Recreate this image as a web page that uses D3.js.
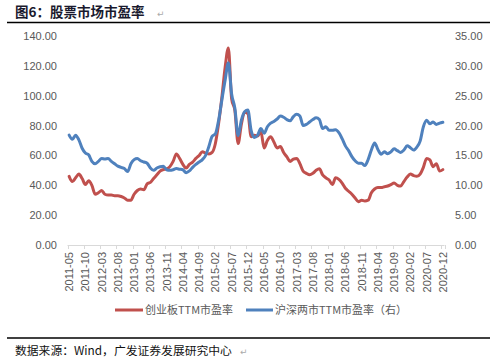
<!DOCTYPE html>
<html><head><meta charset="utf-8">
<script src="https://cdn.jsdelivr.net/npm/d3@7"></script>
<style>
html,body{margin:0;padding:0;background:#fff;}
svg{display:block;}
</style></head>
<body>
<script>
// ---- data ----
const startYear = 2011, startMonth = 5, nMonths = 116;
const months = d3.range(nMonths).map(i => {
  const m = startMonth - 1 + i;
  return `${startYear + Math.floor(m / 12)}-${String(m % 12 + 1).padStart(2, "0")}`;
});
const chinextPE = [46,42.5,45,47.5,44.5,40.5,43,40,34,35,36.5,34,33.5,33.5,33,33,32.5,31.5,30,30,
  34,36.5,37.5,37,41,42,44.5,47,49.5,50.5,51,52.5,56,61,58,54,51.5,54,55.5,58,
  60,62.5,61.5,61,62,68,81.5,99,119,132,98,90,68,81,89,88,72.5,73.5,73,76,
  65,70,72.5,69,65,66,62,59,56,57.5,58,54.5,49.5,48,47,48,50,51,47,45,
  43.5,40.5,45,44,41.5,38,36,34,31.5,29,30,29.5,30,35,37.5,38.5,38.5,39,39.5,40.5,
  41.5,40,39.5,42.5,45.5,47.5,46.5,46,47.5,52,58,57,52.5,54.5,49.5,50.5];
const allAPE = [18.4,17.7,18.4,17.6,16.2,15.4,15.1,14.0,13.6,14.0,14.5,14.4,14.5,14.0,13.6,13.2,13.0,12.8,12.3,13.6,
  14.3,14.5,14.1,13.9,13.7,12.9,12.5,12.9,13.1,13.2,12.6,12.5,12.6,12.8,12.7,12.6,12.1,12.4,13.0,13.5,
  13.9,14.3,15.0,16.5,18.2,18.6,20.9,24.3,27.6,30.5,25.3,22.9,18.3,20.9,22.3,22.6,19.2,18.0,18.4,19.5,
  18.7,19.8,20.4,20.7,21.1,21.6,21.4,21.0,20.8,21.5,21.9,21.6,20.0,20.2,20.6,21.0,21.3,21.0,19.5,19.8,
  19.2,19.2,19.3,18.8,17.8,16.6,15.8,14.8,14.1,13.7,13.7,13.3,14.3,15.9,17.1,16.0,15.2,15.6,15.3,15.6,
  16.1,15.8,15.5,15.9,16.6,16.3,15.9,16.4,17.4,19.8,20.9,20.3,20.6,20.2,20.4,20.55];
const leftTicks = [0,20,40,60,80,100,120,140];
const rightTicks = [0,5,10,15,20,25,30,35];
const seriesNames = ["创业板TTM市盈率", "沪深两市TTM市盈率（右）"];
const titleText = "图6：股票市场市盈率";
const sourceText = "数据来源：Wind，广发证券发展研究中心";

// ---- layout ----
const W = 495, H = 360;
const svg = d3.select("body").append("svg").attr("width", W).attr("height", H);
const red = "#C0504D", blue = "#4F81BD", grey = "#595959";
const plotTop = 36, plotBottom = 245;

const x = d3.scaleLinear().domain([-0.5, nMonths - 0.5]).range([67.5, 444.5]);
const yL = d3.scaleLinear().domain([0, 140]).range([plotBottom, plotTop]);
const yR = d3.scaleLinear().domain([0, 35]).range([plotBottom, plotTop]);

// title
svg.append("text").attr("x", 15).attr("y", 17)
  .style("font-family", "'Noto Sans CJK SC'").style("font-weight", 700)
  .style("font-size", "13.5px").attr("fill", "#1a1a2e").text(titleText);
svg.append("text").attr("x", 157).attr("y", 17)
  .style("font-family", "'DejaVu Sans'").style("font-size", "9px").attr("fill", "#aaa").text("↵");
svg.append("line").attr("x1", 7).attr("x2", 490).attr("y1", 22.5).attr("y2", 22.5)
  .attr("stroke", "#000").attr("stroke-width", 1.3);

// left axis
const fmt = d3.format(".2f");
const gL = svg.append("g").attr("transform", `translate(${57},0)`)
  .call(d3.axisLeft(yL).tickValues(leftTicks).tickFormat(fmt).tickSize(0).tickPadding(0));
gL.select(".domain").remove();
gL.selectAll("text").style("font-family", "'Liberation Sans', Arial").style("font-size", "11px").attr("fill", grey);

// right axis
const gR = svg.append("g").attr("transform", `translate(${455},0)`)
  .call(d3.axisRight(yR).tickValues(rightTicks).tickFormat(fmt).tickSize(0).tickPadding(0));
gR.select(".domain").remove();
gR.selectAll("text").style("font-family", "'Liberation Sans', Arial").style("font-size", "11px").attr("fill", grey);

// x axis
const tickIdx = d3.range(0, nMonths, 5);
const gX = svg.append("g");
gX.append("line").attr("x1", x(-0.5)).attr("x2", x(nMonths - 0.5))
  .attr("y1", plotBottom + 0.5).attr("y2", plotBottom + 0.5).attr("stroke", "#d9d9d9");
gX.selectAll("line.tk").data(tickIdx.concat([nMonths])).join("line").attr("class", "tk")
  .attr("x1", d => Math.round(x(d - 0.5)) + 0.5).attr("x2", d => Math.round(x(d - 0.5)) + 0.5)
  .attr("y1", plotBottom).attr("y2", plotBottom + 4).attr("stroke", "#d9d9d9");
gX.selectAll("text").data(tickIdx).join("text")
  .attr("transform", d => `translate(${x(d) + 4},${plotBottom + 7}) rotate(-90)`)
  .attr("text-anchor", "end")
  .style("font-family", "'Liberation Sans', Arial").style("font-size", "11px").attr("fill", grey)
  .text(d => months[d]);

// lines
const lineL = d3.line().x((d, i) => x(i)).y(d => yL(d)).curve(d3.curveMonotoneX);
const lineR = d3.line().x((d, i) => x(i)).y(d => yR(d)).curve(d3.curveMonotoneX);
svg.append("path").datum(chinextPE).attr("d", lineL).attr("fill", "none")
  .attr("stroke", red).attr("stroke-width", 3).attr("stroke-linejoin", "round").attr("stroke-linecap", "round");
svg.append("path").datum(allAPE).attr("d", lineR).attr("fill", "none")
  .attr("stroke", blue).attr("stroke-width", 3).attr("stroke-linejoin", "round").attr("stroke-linecap", "round");

// legend
const legend = [
  {name: seriesNames[0], color: red, x1: 115, x2: 143},
  {name: seriesNames[1], color: blue, x1: 246, x2: 273}
];
const gLeg = svg.append("g");
legend.forEach(l => {
  gLeg.append("line").attr("x1", l.x1).attr("x2", l.x2).attr("y1", 310).attr("y2", 310)
    .attr("stroke", l.color).attr("stroke-width", 3);
  gLeg.append("text").attr("x", l.x2 + 2).attr("y", 314)
    .style("font-family", "'Noto Sans CJK SC'").style("font-size", "11px").attr("fill", grey).text(l.name);
});

// footer
svg.append("line").attr("x1", 7).attr("x2", 490).attr("y1", 338).attr("y2", 338)
  .attr("stroke", "#000").attr("stroke-width", 1.3);
svg.append("text").attr("x", 15).attr("y", 355)
  .style("font-family", "'Noto Sans CJK SC'").style("font-size", "11.8px").attr("fill", "#111").text(sourceText);
svg.append("text").attr("x", 240).attr("y", 355)
  .style("font-family", "'DejaVu Sans'").style("font-size", "9px").attr("fill", "#aaa").text("↵");
</script>
</body></html>
